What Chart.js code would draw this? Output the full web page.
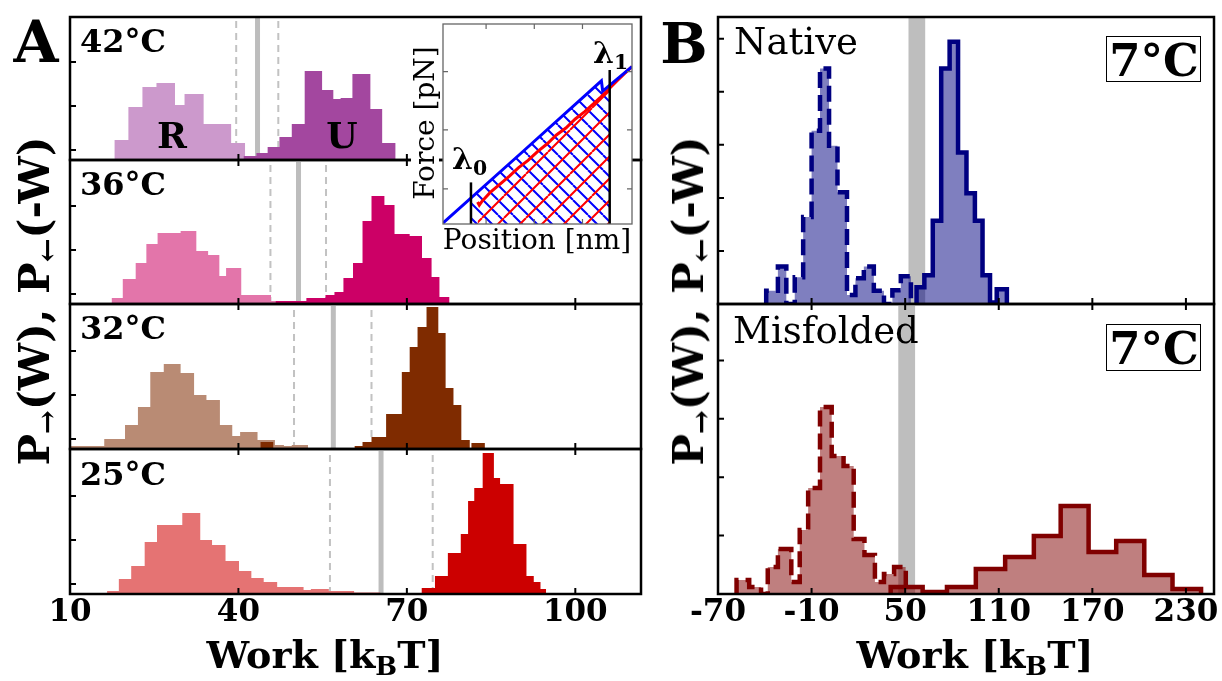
<!DOCTYPE html>
<html><head><meta charset="utf-8">
<script src="https://cdn.jsdelivr.net/npm/chart.js@4.4.1/dist/chart.umd.min.js"></script>
<style>
html,body{margin:0;padding:0;background:#fff;}
#wrap{position:relative;width:1222px;height:681px;overflow:hidden;background:#fff;}
#wrap canvas{position:absolute;}
.t{position:absolute;white-space:nowrap;color:#000;line-height:1;font-family:'DejaVu Serif',serif;}
.t sub{font-size:0.68em;line-height:0;vertical-align:-0.28em;}
.box{position:absolute;border:1.3px solid #000;box-sizing:border-box;}
</style></head>
<body><div id="wrap"></div>
<script>
// ================= DATA =================
const workTicksA = [10, 40, 70, 100];
const workTicksB = [-70, -10, 50, 110, 170, 230];
const yTicksA = [10, 54, 98];
const yTicksBTop = [53.6, 107.2, 160.8, 214.4, 268];
const yTicksBBot = [58.4, 116.8, 175.2, 233.6];
const tempsA = ['42°C', '36°C', '32°C', '25°C'];

// 42 °C  (R = refolding, U = unfolding); bin edges in kBT, heights in counts
const r42Edges = [17.9, 20.4, 22.9, 25.4, 28.7, 30.4, 33.8, 38.7, 41.2];
const r42H     = [20, 53, 73, 77, 55, 66, 36, 17];
const u42Edges = [40.9, 43.2, 45.2, 47.3, 49.5, 51.8, 54.9, 56.9, 58.2, 60.3, 63.5, 65.6, 68.0];
const u42H     = [4, 7, 13, 23, 36, 89, 70, 61, 62, 86, 51, 17];
// 36 °C
const r36Edges = [17.4, 19.4, 21.7, 23.6, 25.6, 28.5, 29.7, 32.5, 34.6, 36.6, 37.8, 40.5, 45.8, 49.7];
const r36H     = [6, 25, 41, 60, 71, 71, 73, 53, 49, 28, 36, 9, 3];
const u36Edges = [46.6, 52.1, 55.5, 57.1, 58.7, 60.4, 62.1, 63.7, 66.0, 67.8, 70.5, 72.7, 74.4, 75.8, 77.6];
const u36H     = [3, 6, 9, 12, 26, 41, 83, 108, 99, 70, 68, 46, 27, 7];
// 32 °C
const r32Edges = [10.0, 16.1, 19.8, 22.1, 24.3, 26.7, 29.7, 32.1, 34.3, 36.7, 38.9, 40.3, 43.4, 46.5, 48.1, 49.5, 52.4];
const r32H     = [3, 10, 24, 42, 77, 85, 76, 54, 49, 24, 13, 17, 9, 4, 3, 4];
const u32Edges = [43.9, 46.2, 60.7, 62.1, 63.7, 66.3, 69.1, 70.5, 71.9, 73.5, 75.6, 76.9, 78.3, 79.7, 81.2, 81.5, 83.9];
const u32H     = [7, 0, 3, 7, 12, 35, 77, 102, 122, 142, 116, 61, 44, 9, 0, 6];
// 25 °C
const r25Edges = [16.6, 18.7, 20.9, 23.3, 25.5, 30.0, 33.2, 35.3, 37.7, 40.1, 42.3, 44.5, 46.9, 51.6, 52.9, 56.1, 57.6, 60.6, 65.3];
const r25H     = [3, 15, 28, 52, 69, 81, 54, 49, 33, 23, 16, 12, 7, 4, 5, 3, 3, 1.5];
const u25Edges = [72.6, 75.0, 77.3, 79.6, 80.9, 82.0, 83.5, 85.5, 86.6, 89.0, 91.3, 92.6, 93.8, 94.8];
const u25H     = [6, 18, 41, 60, 93, 106, 141, 116, 110, 50, 18, 12, 5];

// free-energy estimate (solid) and bounds (dashed) per temperature, A panels top->bottom
const deltaG = [43.4, 50.7, 56.9, 65.4];
const boundLo = [39.6, 45.7, 49.9, 56.3];
const boundHi = [47.1, 55.6, 63.7, 74.6];

// Panel B, 7 °C native
const rNatEdges = [-39.1, -31.6, -26.2, -20.8, -15.4, -10.0, -4.6, 1.2, 6.6, 12.7, 18.1, 23.5, 29.9, 36.4, 41.8, 47.2, 53.7];
const rNatH     = [13.5, 38, 0, 27, 88, 175, 238, 160, 113, 9, 26, 38, 13.5, 0, 14, 28];
const uNatEdges = [57.3, 62.3, 67.7, 73.1, 78.5, 83.9, 89.3, 94.7, 99.6, 104.4, 108.7, 115.2];
const uNatH     = [17, 29, 84, 238, 265, 153, 112, 84, 29, 1.5, 15];
// Panel B, 7 °C misfolded
const rMisEdges = [-58.1, -50.0, -42.4, -38.1, -31.6, -28.3, -23.0, -17.6, -12.2, -4.6, 2.9, 10.5, 17.0, 23.9, 30.6, 36.4, 42.9, 50.4];
const rMisH     = [14, 7, 0, 27, 45, 45, 12, 64, 106, 187, 138, 128, 55, 39, 12, 20, 27];
const uMisEdges = [40.7, 61.2, 76.8, 95.3, 114.1, 132.5, 149.7, 167.6, 185.3, 203.3, 221.4, 239.7];
const uMisH     = [7, 2, 7, 25, 37, 58, 88, 42, 53, 19, 5];
const bandNat = [52, 63];
const bandMis = [45.5, 56.5];

// Inset: force vs position (normalised units)
const unfoldX = [0, 0.42, 0.838, 0.845, 1.0];
const unfoldY = [0.005, 0.36, 0.716, 0.664, 0.787];
const refoldX = [0.183, 0.192, 0.205, 0.25, 0.30, 0.35, 0.40, 0.45, 0.50, 0.55, 0.60, 0.65, 0.70, 0.75, 0.80, 0.83, 0.87, 0.92, 0.96, 1.0];
const refoldY = [0.110, 0.094, 0.112, 0.158, 0.198, 0.238, 0.282, 0.318, 0.362, 0.400, 0.445, 0.480, 0.525, 0.562, 0.605, 0.630, 0.668, 0.715, 0.752, 0.787];
const lambda0 = 0.148, lambda0Top = 0.208;
const lambda1 = 0.882, lambda1Top = 0.77;
const insetTicksX = [0.228, 0.483, 0.738];
const insetTicksY = [0.176, 0.471, 0.762];

// ================= DRAWING =================
Chart.defaults.font.family = "'DejaVu Serif', serif";
const OX = 50, CW = 1322, CH = 681, AXH = 60;
const wrap = document.getElementById('wrap');
function newCanvas(left, top, w, h) {
  const c = document.createElement('canvas');
  c.width = w; c.height = h;
  c.style.left = left + 'px'; c.style.top = top + 'px';
  c.style.width = w + 'px'; c.style.height = h + 'px';
  wrap.appendChild(c); return c;
}
const framePlugin = {
  id: 'frame',
  beforeDraw(chart, args, o) {
    if (o.bg) { const a = chart.chartArea; chart.ctx.save(); chart.ctx.fillStyle = o.bg; chart.ctx.fillRect(a.left, a.top, a.right - a.left, a.bottom - a.top); chart.ctx.restore(); }
  },
  afterDatasetsDraw(chart, args, o) {
    const {ctx, chartArea: a, scales: {x, y}} = chart;
    const L = o.tickLen || 6;
    ctx.save();
    ctx.strokeStyle = o.color || '#000';
    ctx.lineWidth = o.tickWidth || 2;
    ctx.beginPath();
    (o.xTicks || []).forEach(v => {
      const px = x.getPixelForValue(v);
      if (px <= a.left + 1 || px >= a.right - 1) return;
      ctx.moveTo(px, a.bottom); ctx.lineTo(px, a.bottom - L);
      if (o.top) { ctx.moveTo(px, a.top); ctx.lineTo(px, a.top + L); }
    });
    (o.yTicks || []).forEach(v => {
      const py = y.getPixelForValue(v);
      ctx.moveTo(a.left, py); ctx.lineTo(a.left + L, py);
      if (o.right) { ctx.moveTo(a.right, py); ctx.lineTo(a.right - L, py); }
    });
    ctx.stroke();
    ctx.lineWidth = o.frameWidth || 2.5;
    ctx.strokeRect(a.left, a.top, a.right - a.left, a.bottom - a.top);
    ctx.restore();
  }
};
function histDS(edges, heights, color, extra) {
  const pts = [{x: edges[0], y: 0}];
  heights.forEach((h, i) => pts.push({x: edges[i], y: h}));
  pts.push({x: edges[edges.length - 1], y: 0});
  return Object.assign({data: pts, stepped: true, fill: 'origin', backgroundColor: color,
    borderColor: 'rgba(0,0,0,0)', borderWidth: 0, pointRadius: 0, tension: 0}, extra || {});
}
function vline(x, ymax, color, width, dash, order) {
  return {data: [{x: x, y: 0}, {x: x, y: ymax}], borderColor: color, borderWidth: width,
    borderDash: dash || [], pointRadius: 0, fill: false, order: order};
}
function band(x0, x1, ymax, color, order) {
  return {data: [{x: x0, y: ymax}, {x: x1, y: ymax}], fill: 'origin', backgroundColor: color,
    borderColor: 'rgba(0,0,0,0)', borderWidth: 0, pointRadius: 0, order: order};
}
function panel(cfg) {
  const [x0, y0, x1, y1] = cfg.box;
  const c = newCanvas(-OX, 0, CW, CH);
  const showAxis = !!cfg.labels;
  new Chart(c, {
    type: 'line',
    data: {datasets: cfg.datasets},
    options: {
      responsive: false, animation: false, events: [],
      layout: {padding: {left: x0 + OX, right: CW - (x1 + OX), top: y0, bottom: CH - y1 - (showAxis ? AXH : 0)}},
      plugins: {legend: {display: false}, tooltip: {enabled: false},
        frame: {xTicks: cfg.xTicks, yTicks: cfg.yTicks, top: cfg.topTicks}},
      scales: {
        x: {type: 'linear', min: cfg.xmin, max: cfg.xmax, display: showAxis,
          grid: {display: false, drawTicks: false}, border: {display: false},
          ticks: {color: '#000', padding: 0, autoSkip: false, maxRotation: 0, minRotation: 0,
            font: {family: "'DejaVu Serif', serif", size: 31, weight: 'bold', lineHeight: 1.2},
            callback: v => String(v)},
          afterBuildTicks: s => { s.ticks = (cfg.labels || []).map(v => ({value: v})); },
          afterFit: s => { s.height = showAxis ? AXH : 0; }},
        y: {type: 'linear', min: 0, max: cfg.ymax, display: false}
      }
    },
    plugins: [framePlugin]
  });
}

// ---- Panel A ----
const aBoxes = [[70, 17, 641, 160], [70, 160, 641, 304], [70, 304, 641, 449], [70, 449, 641, 594]];
const aHists = [
  [r42Edges, r42H, '#cc99cc', u42Edges, u42H, '#a3479f'],
  [r36Edges, r36H, '#e375aa', u36Edges, u36H, '#cc0066'],
  [r32Edges, r32H, '#b98b74', u32Edges, u32H, '#7f2b00'],
  [r25Edges, r25H, '#e57373', u25Edges, u25H, '#cc0000']
];
aBoxes.forEach((b, i) => {
  const ymax = b[3] - b[1];
  const h = aHists[i];
  panel({
    box: b, xmin: 10, xmax: 111.7, ymax: ymax,
    labels: i === 3 ? workTicksA : null,
    xTicks: workTicksA, yTicks: yTicksA, topTicks: i > 0,
    datasets: [
      histDS(h[3], h[4], h[5], {order: 1}),
      histDS(h[0], h[1], h[2], {order: 2}),
      vline(deltaG[i], ymax, '#bdbdbd', 5, [], 3),
      vline(boundLo[i], ymax, '#c2c2c2', 2, [7, 5], 4),
      vline(boundHi[i], ymax, '#c2c2c2', 2, [7, 5], 4)
    ]
  });
});

// ---- Panel B ----
const navy = '#000080', maroon = '#800000';
panel({
  box: [718, 17, 1214, 304], xmin: -70, xmax: 248, ymax: 290,
  xTicks: workTicksB, yTicks: yTicksBTop, topTicks: false,
  datasets: [
    histDS(uNatEdges, uNatH, 'rgba(0,0,128,0.5)', {order: 1, borderColor: navy, borderWidth: 4.5}),
    histDS(rNatEdges, rNatH, 'rgba(0,0,128,0.5)', {order: 2, borderColor: navy, borderWidth: 4.5, borderDash: [16, 7]}),
    band(bandNat[0], bandNat[1], 290, '#bebebe', 5)
  ]
});
panel({
  box: [718, 304, 1214, 594], xmin: -70, xmax: 248, ymax: 290,
  labels: workTicksB,
  xTicks: workTicksB, yTicks: yTicksBBot, topTicks: true,
  datasets: [
    histDS(uMisEdges, uMisH, 'rgba(128,0,0,0.5)', {order: 1, borderColor: maroon, borderWidth: 4.5}),
    histDS(rMisEdges, rMisH, 'rgba(128,0,0,0.5)', {order: 2, borderColor: maroon, borderWidth: 4.5, borderDash: [16, 7]}),
    band(bandMis[0], bandMis[1], 290, '#bebebe', 5)
  ]
});

// ---- Inset ----
function hatch(color, p, dir) {
  const c = document.createElement('canvas'); c.width = p; c.height = p;
  const g = c.getContext('2d'); g.strokeStyle = color; g.lineWidth = 2;
  g.beginPath();
  for (let k = -1; k <= 1; k++) {
    if (dir === '\\') { g.moveTo(k * p, 0); g.lineTo(k * p + p, p); }
    else { g.moveTo(k * p, p); g.lineTo(k * p + p, 0); }
  }
  g.stroke();
  return g.createPattern(c, 'repeat');
}
function interp(xs, ys, x) {
  for (let i = 0; i < xs.length - 1; i++)
    if (x >= xs[i] && x <= xs[i + 1]) return ys[i] + (ys[i + 1] - ys[i]) * (x - xs[i]) / (xs[i + 1] - xs[i]);
  return ys[ys.length - 1];
}
function region(xs, ys, a, b) {
  const out = [{x: a, y: 0}, {x: a, y: interp(xs, ys, a)}];
  xs.forEach((x, i) => { if (x > a && x < b) out.push({x: x, y: ys[i]}); });
  out.push({x: b, y: interp(xs, ys, b)}, {x: b, y: 0});
  return out;
}
const toPts = (xs, ys) => xs.map((x, i) => ({x: x, y: ys[i]}));
const insetCanvas = newCanvas(438, 20, 200, 208);
new Chart(insetCanvas, {
  type: 'line',
  data: {datasets: [
    {data: [{x: lambda0, y: 0}, {x: lambda0, y: lambda0Top}], borderColor: '#000', borderWidth: 2.5, pointRadius: 0, order: 0},
    {data: [{x: lambda1, y: 0}, {x: lambda1, y: lambda1Top}], borderColor: '#000', borderWidth: 2.5, pointRadius: 0, order: 0},
    {data: toPts(unfoldX, unfoldY), borderColor: '#0000ff', borderWidth: 3, pointRadius: 0, fill: false, order: 1},
    {data: toPts(refoldX, refoldY), borderColor: '#ff0000', borderWidth: 3, pointRadius: 0, fill: false, order: 2},
    {data: region(refoldX, refoldY, refoldX[0], lambda1), fill: 'origin', backgroundColor: hatch('#ff0000', 22, '/'),
      borderColor: 'rgba(0,0,0,0)', borderWidth: 0, pointRadius: 0, order: 3},
    {data: region(unfoldX, unfoldY, lambda0, lambda1), fill: 'origin', backgroundColor: hatch('#0000ff', 15, '\\'),
      borderColor: 'rgba(0,0,0,0)', borderWidth: 0, pointRadius: 0, order: 4}
  ]},
  options: {
    responsive: false, animation: false, events: [],
    layout: {padding: {left: 5, right: 6, top: 4, bottom: 4}},
    plugins: {legend: {display: false}, tooltip: {enabled: false},
      frame: {bg: '#fff', xTicks: insetTicksX, yTicks: insetTicksY, top: true, right: true,
        color: '#666', frameWidth: 1.3, tickWidth: 1.2, tickLen: 5}},
    scales: {x: {type: 'linear', min: 0, max: 1, display: false}, y: {type: 'linear', min: 0, max: 1, display: false}}
  },
  plugins: [framePlugin]
});

// ---- Text ----
function addText(html, o) {
  const d = document.createElement('div');
  d.className = 't'; d.innerHTML = html;
  d.style.fontSize = o.size + 'px';
  d.style.fontWeight = o.bold === false ? 'normal' : 'bold';
  if (o.bg) d.style.background = o.bg;
  if (o.pad) d.style.padding = o.pad;
  wrap.appendChild(d);
  if (o.rotate) {
    d.style.left = o.x + 'px'; d.style.top = o.y + 'px';
    d.style.transform = 'translate(-50%,-50%) rotate(-90deg)';
  } else {
    d.style.top = (o.y - 0.846 * o.size) + 'px';
    d.style.left = o.x + 'px';
    if (o.align === 'center') d.style.transform = 'translateX(-50%)';
  }
  return d;
}
function addBox(l, t, r, b) {
  const d = document.createElement('div'); d.className = 'box';
  d.style.left = l + 'px'; d.style.top = t + 'px'; d.style.width = (r - l) + 'px'; d.style.height = (b - t) + 'px';
  wrap.appendChild(d);
}
addText('A', {x: 36, y: 62, size: 58, align: 'center'});
addText('B', {x: 684, y: 62, size: 56, align: 'center'});
const tempBase = [52, 195, 339, 485];
tempsA.forEach((t, i) => addText(t, {x: 80, y: tempBase[i], size: 32}));
addText('R', {x: 172, y: 147, size: 36, align: 'center'});
addText('U', {x: 342, y: 147, size: 36, align: 'center'});
addText('Native', {x: 734, y: 54, size: 37, bold: false});
addText('Misfolded', {x: 733, y: 343, size: 37, bold: false});
addBox(1106, 36, 1201, 82);
addText('7°C', {x: 1154, y: 76, size: 45, align: 'center'});
addBox(1106, 324, 1201, 371);
addText('7°C', {x: 1154, y: 364, size: 45, align: 'center'});
addText('Work [k<sub>B</sub>T]', {x: 325, y: 668, size: 38, align: 'center'});
addText('Work [k<sub>B</sub>T]', {x: 975, y: 668, size: 38, align: 'center'});
addText('P<sub>→</sub>(W), P<sub>←</sub>(-W)', {x: 35, y: 301, size: 42, rotate: true});
addText('P<sub>→</sub>(W), P<sub>←</sub>(-W)', {x: 689, y: 301, size: 42, rotate: true});
addText('Force [pN]', {x: 425, y: 123, size: 28, bold: false, rotate: true, bg: '#fff', pad: '0 4px'});
addText('Position [nm]', {x: 537, y: 250, size: 28, bold: false, align: 'center', bg: '#fff'});
addText('λ<sub>0</sub>', {x: 452, y: 169, size: 30});
addText('λ<sub>1</sub>', {x: 593, y: 63, size: 30});
</script></body></html>
